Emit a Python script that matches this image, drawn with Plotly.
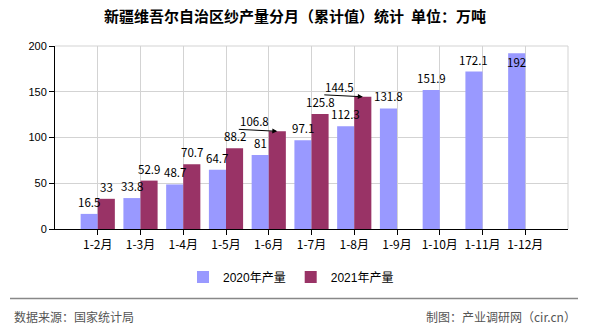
import plotly.graph_objects as go

categories = ["1-2月", "1-3月", "1-4月", "1-5月", "1-6月", "1-7月", "1-8月",
              "1-9月", "1-10月", "1-11月", "1-12月"]
values_2020 = [16.5, 33.8, 48.7, 64.7, 81, 97.1, 112.3, 131.8, 151.9, 172.1, 192]
values_2021 = [33, 52.9, 70.7, 88.2, 106.8, 125.8, 144.5, None, None, None, None]
series_names = ["2020年产量", "2021年产量"]
series_colors = ["#9999FF", "#993366"]
arrow_points = ["1-6月", "1-8月"]   # 2021 labels drawn with a leader arrow

title_text = "新疆维吾尔自治区纱产量分月（累计值）统计  单位：万吨"
source_left = "数据来源：国家统计局"
source_right = "制图：产业调研网（cir.cn）"

Y_MAX = 200
LABEL_FONT = dict(family="Noto Sans CJK SC", size=11.5, color="#000000")

# pixel helpers for the fixed 590x330 canvas
M_L, M_R, M_T, M_B = 55, 22, 46, 101
plot_h = 330 - M_T - M_B
plot_w = 590 - M_L - M_R
def px_x(px):
    return (px - M_L) / plot_w
def px_y(py):
    return (330 - M_B - py) / plot_h

fig = go.Figure()
for name, vals, col in zip(series_names, [values_2020, values_2021], series_colors):
    fig.add_trace(go.Bar(x=categories, y=vals, name=name, marker_color=col,
                         marker_line_width=0, hoverinfo="x+y"))

annotations = []
for si, vals in enumerate([values_2020, values_2021]):
    off = -0.2 if si == 0 else 0.2
    for i, v in enumerate(vals):
        if v is None:
            continue
        if si == 1 and categories[i] in arrow_points:
            annotations.append(dict(x=i + off, y=v, xref="x", yref="y", text="",
                                    showarrow=True, arrowhead=2, arrowsize=1,
                                    arrowwidth=1, arrowcolor="#000000",
                                    ax=-40, ay=-2, standoff=0))
            annotations.append(dict(x=i + off, y=v, xref="x", yref="y",
                                    text=f"{v:g}", showarrow=False,
                                    xshift=-23, yshift=10, yanchor="middle",
                                    font=LABEL_FONT))
            continue
        inside = v > 0.9 * Y_MAX
        annotations.append(dict(x=i + off, y=v, xref="x", yref="y",
                                text=f"{v:g}", showarrow=False,
                                yshift=-9 if inside else 12, yanchor="middle",
                                font=LABEL_FONT))

annotations.append(dict(x=px_x(12), y=px_y(316), xref="paper", yref="paper",
                        text=source_left, showarrow=False, xanchor="left",
                        yanchor="middle",
                        font=dict(family="Noto Sans CJK SC", size=12, color="#555555")))
annotations.append(dict(x=px_x(578), y=px_y(316), xref="paper", yref="paper",
                        text=source_right, showarrow=False, xanchor="right",
                        yanchor="middle",
                        font=dict(family="Noto Sans CJK SC", size=12, color="#555555")))

fig.update_layout(
    width=590, height=330,
    margin=dict(l=M_L, r=M_R, t=M_T, b=M_B),
    paper_bgcolor="#FFFFFF", plot_bgcolor="#FFFFFF",
    barmode="group", bargap=0.2, bargroupgap=0,
    font=dict(family="Noto Sans CJK SC", size=12, color="#000000"),
    title=dict(text=f"<b>{title_text}</b>", x=0.5, xanchor="center", y=1 - 17 / 330,
               yanchor="middle",
               font=dict(family="Noto Sans CJK SC", size=15, color="#000000")),
    showlegend=True,
    legend=dict(orientation="h", x=px_x(291), xanchor="center", y=px_y(277),
                yanchor="middle",
                font=dict(family="Liberation Sans, Noto Sans CJK SC", size=12),
                itemwidth=30, bgcolor="rgba(0,0,0,0)"),
    xaxis=dict(type="category", categoryorder="array", categoryarray=categories,
               range=[-1, len(categories)], showgrid=True, gridcolor="#D3D3D3",
               gridwidth=1, showline=True, linecolor="#000000", linewidth=1,
               ticks="outside", ticklen=5, tickcolor="#000000",
               tickfont=dict(family="Noto Sans CJK SC", size=12, color="#000000"),
               zeroline=False, fixedrange=True),
    yaxis=dict(range=[0, Y_MAX], dtick=50, showgrid=True, gridcolor="#D3D3D3",
               gridwidth=1, showline=True, linecolor="#000000", linewidth=1,
               ticks="outside", ticklen=5, tickcolor="#000000",
               tickfont=dict(family="Liberation Sans", size=11, color="#000000"),
               zeroline=False, fixedrange=True),
    annotations=annotations,
    shapes=[
        dict(type="line", xref="paper", yref="paper", x0=1, x1=1, y0=0, y1=1,
             line=dict(color="#D3D3D3", width=1)),
        dict(type="line", xref="paper", yref="paper", x0=0, x1=1, y0=1, y1=1,
             line=dict(color="#D3D3D3", width=1)),
        dict(type="line", xref="paper", yref="paper", x0=px_x(10), x1=px_x(578),
             y0=px_y(298.5), y1=px_y(298.5), line=dict(color="#888888", width=1.5)),
    ],
)

fig.write_html("out.html")
